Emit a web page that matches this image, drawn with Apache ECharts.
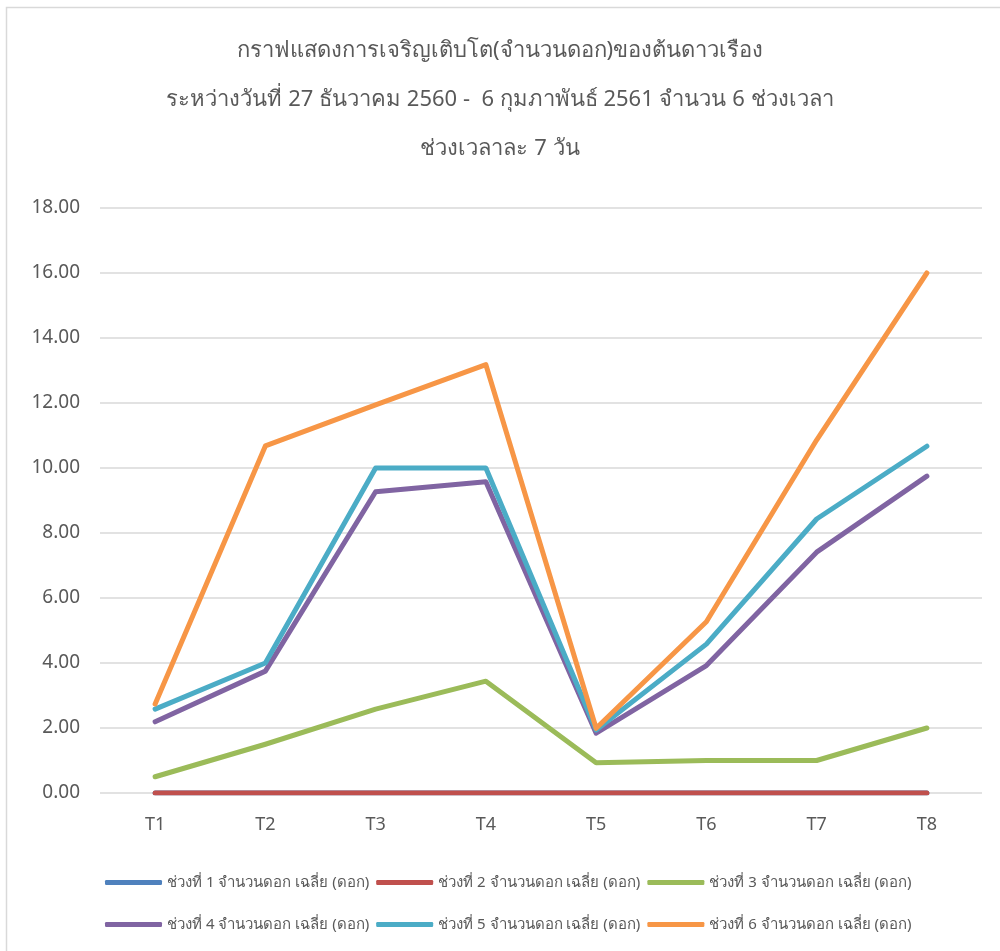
<!DOCTYPE html>
<html lang="th">
<head>
<meta charset="UTF-8">
<title>กราฟแสดงการเจริญเติบโต</title>
<script src="https://cdn.jsdelivr.net/npm/echarts@6/dist/echarts.min.js"></script>
<style>
    html, body { margin: 0; padding: 0; background: #fff; }
    #container { width: 1000px; height: 951px; }
</style>
</head>
<body>
<div id="container"></div>
<script type="text/javascript">
    // ข้อมูล
    var categories = ['T1', 'T2', 'T3', 'T4', 'T5', 'T6', 'T7', 'T8'];
    var seriesNames = [
        'ช่วงที่ 1 จำนวนดอก เฉลี่ย (ดอก)',
        'ช่วงที่ 2 จำนวนดอก เฉลี่ย (ดอก)',
        'ช่วงที่ 3 จำนวนดอก เฉลี่ย (ดอก)',
        'ช่วงที่ 4 จำนวนดอก เฉลี่ย (ดอก)',
        'ช่วงที่ 5 จำนวนดอก เฉลี่ย (ดอก)',
        'ช่วงที่ 6 จำนวนดอก เฉลี่ย (ดอก)'
    ];
    var period1 = [0, 0, 0, 0, 0, 0, 0, 0];
    var period2 = [0, 0, 0, 0, 0, 0, 0, 0];
    var period3 = [0.50, 1.50, 2.58, 3.44, 0.93, 1.00, 1.00, 2.00];
    var period4 = [2.19, 3.75, 9.27, 9.58, 1.84, 3.92, 7.41, 9.75];
    var period5 = [2.58, 4.00, 10.00, 10.00, 1.94, 4.58, 8.43, 10.67];
    var period6 = [2.74, 10.68, 11.94, 13.18, 1.99, 5.27, 10.86, 16.00];
    var colors = ['#4F81BD', '#C0504D', '#9BBB59', '#8064A2', '#4BACC6', '#F79646'];

    var titleText = 'กราฟแสดงการเจริญเติบโต(จำนวนดอก)ของต้นดาวเรือง\n' +
        'ระหว่างวันที่ 27 ธันวาคม 2560 -  6 กุมภาพันธ์ 2561 จำนวน 6 ช่วงเวลา\n' +
        'ช่วงเวลาละ 7 วัน';

    var dataList = [period1, period2, period3, period4, period5, period6];
    var series = [];
    for (var i = 0; i < dataList.length; i++) {
        series.push({
            name: seriesNames[i],
            type: 'line',
            data: dataList[i],
            symbol: 'none',
            color: colors[i],
            lineStyle: { width: 5, cap: 'round', join: 'round' }
        });
    }

    var dom = document.getElementById('container');
    var myChart = echarts.init(dom, null, { renderer: 'canvas' });
    var legendText = { color: '#595959', fontSize: 15, fontFamily: 'Noto Sans, sans-serif' };
    var option = {
        animation: false,
        backgroundColor: '#fff',
        graphic: [{
            type: 'rect',
            shape: { x: 6.5, y: 7.5, width: 1000, height: 960 },
            style: { fill: 'none', stroke: '#d9d9d9', lineWidth: 1.5 },
            silent: true
        }],
        title: {
            text: titleText,
            left: 'center',
            top: 21,
            textStyle: {
                color: '#595959',
                fontSize: 22,
                fontWeight: 'normal',
                lineHeight: 49,
                fontFamily: 'Noto Sans, sans-serif'
            }
        },
        legend: [
            {
                data: seriesNames.slice(0, 3),
                left: 100,
                top: 870,
                itemWidth: 57,
                itemHeight: 5,
                itemGap: 7,
                icon: 'roundRect',
                textStyle: legendText
            },
            {
                data: seriesNames.slice(3, 6),
                left: 100,
                top: 912,
                itemWidth: 57,
                itemHeight: 5,
                itemGap: 7,
                icon: 'roundRect',
                textStyle: legendText
            }
        ],
        grid: {
            left: 100,
            right: 18,
            top: 208,
            bottom: 158
        },
        xAxis: {
            type: 'category',
            data: categories,
            boundaryGap: true,
            axisLine: { show: false },
            axisTick: { show: false },
            axisLabel: { color: '#595959', fontSize: 18, margin: 23, fontFamily: 'Noto Sans, sans-serif' }
        },
        yAxis: {
            type: 'value',
            min: 0,
            max: 18,
            interval: 2,
            axisLine: { show: false },
            axisTick: { show: false },
            splitLine: { lineStyle: { color: '#d9d9d9', width: 1.5 } },
            axisLabel: {
                color: '#595959',
                fontSize: 19,
                margin: 20,
                fontFamily: 'Noto Sans, sans-serif',
                formatter: function (v) { return v.toFixed(2); }
            }
        },
        series: series
    };
    myChart.setOption(option);
    window.addEventListener('resize', myChart.resize);
</script>
</body>
</html>
